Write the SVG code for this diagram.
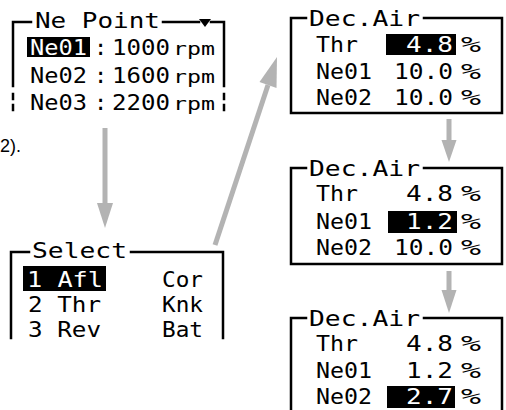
<svg xmlns="http://www.w3.org/2000/svg" width="506" height="410" viewBox="0 0 506 410">
<style>
.b{stroke:#000;stroke-width:2.5;fill:none;stroke-linecap:square}
.t{font-family:"DejaVu Sans Mono","Liberation Mono",monospace;font-size:22px;fill:#000}
.w{fill:#fff}
.s{font-size:17px}
.hl{fill:#000}
.ar{fill:#b3b3b3}
.sh{stroke:#b3b3b3;stroke-width:5;fill:none}
</style>
<rect width="506" height="410" fill="#fff"/>
<text x="0" y="152" style="font-family:'Liberation Sans',Arial,sans-serif;font-size:18px;fill:#000">2).</text>

<g id="ne-point">
  <path class="b" d="M13,86 V22 H31 M163,22 H199 M211,22 H224 V86"/>
  <path class="b" d="M13,94 V99 M13,105 V110 M224,94 V99 M224,105 V110" stroke-linecap="butt"/>
  <polygon points="199,19 211,19 205,27" fill="#000"/>
  <text class="t" x="35" y="28" textLength="125" lengthAdjust="spacingAndGlyphs">Ne Point</text>
  <rect class="hl" x="27" y="37" width="63" height="20"/>
  <text class="t w" x="30" y="55" textLength="57" lengthAdjust="spacingAndGlyphs">Ne01</text>
  <text class="t" x="94" y="55">:</text>
  <text class="t" x="112" y="55" textLength="58" lengthAdjust="spacingAndGlyphs">1000</text>
  <text class="t s" x="173" y="55" textLength="42" lengthAdjust="spacingAndGlyphs">rpm</text>
  <text class="t" x="30" y="83" textLength="57" lengthAdjust="spacingAndGlyphs">Ne02</text>
  <text class="t" x="94" y="83">:</text>
  <text class="t" x="112" y="83" textLength="58" lengthAdjust="spacingAndGlyphs">1600</text>
  <text class="t s" x="173" y="83" textLength="42" lengthAdjust="spacingAndGlyphs">rpm</text>
  <text class="t" x="30" y="110" textLength="57" lengthAdjust="spacingAndGlyphs">Ne03</text>
  <text class="t" x="94" y="110">:</text>
  <text class="t" x="112" y="110" textLength="58" lengthAdjust="spacingAndGlyphs">2200</text>
  <text class="t s" x="173" y="110" textLength="42" lengthAdjust="spacingAndGlyphs">rpm</text>
</g>

<g id="select">
  <path class="b" d="M11,338 V252 H29 M131,252 H223 V338"/>
  <text class="t" x="32" y="258" textLength="95" lengthAdjust="spacingAndGlyphs">Select</text>
  <rect class="hl" x="23" y="266" width="83" height="25"/>
  <text class="t w" x="27" y="287" textLength="76" lengthAdjust="spacingAndGlyphs">1 Afl</text>
  <text class="t" x="162" y="287" textLength="41" lengthAdjust="spacingAndGlyphs">Cor</text>
  <text class="t" x="28" y="312" textLength="73" lengthAdjust="spacingAndGlyphs">2 Thr</text>
  <text class="t" x="162" y="312" textLength="41" lengthAdjust="spacingAndGlyphs">Knk</text>
  <text class="t" x="28" y="337" textLength="73" lengthAdjust="spacingAndGlyphs">3 Rev</text>
  <text class="t" x="162" y="337" textLength="41" lengthAdjust="spacingAndGlyphs">Bat</text>
</g>

<g id="dec-air-1">
  <path class="b" d="M306,18 H291 V113 H502 V18 H424"/>
  <text class="t" x="309" y="26" textLength="111" lengthAdjust="spacingAndGlyphs">Dec.Air</text>
  <text class="t" x="316" y="52" textLength="42" lengthAdjust="spacingAndGlyphs">Thr</text>
  <rect class="hl" x="386" y="34" width="70" height="21"/>
  <text class="t w" x="406" y="52" textLength="47" lengthAdjust="spacingAndGlyphs">4.8</text>
  <text class="t" x="461" y="52" textLength="20" lengthAdjust="spacingAndGlyphs">%</text>
  <text class="t" x="316" y="79" textLength="56" lengthAdjust="spacingAndGlyphs">Ne01</text>
  <text class="t" x="394" y="79" textLength="59" lengthAdjust="spacingAndGlyphs">10.0</text>
  <text class="t" x="461" y="79" textLength="20" lengthAdjust="spacingAndGlyphs">%</text>
  <text class="t" x="316" y="105" textLength="56" lengthAdjust="spacingAndGlyphs">Ne02</text>
  <text class="t" x="394" y="105" textLength="59" lengthAdjust="spacingAndGlyphs">10.0</text>
  <text class="t" x="461" y="105" textLength="20" lengthAdjust="spacingAndGlyphs">%</text>
</g>

<g id="dec-air-2">
  <path class="b" d="M306,168 H291 V264 H502 V168 H424"/>
  <text class="t" x="309" y="176" textLength="111" lengthAdjust="spacingAndGlyphs">Dec.Air</text>
  <text class="t" x="316" y="201" textLength="42" lengthAdjust="spacingAndGlyphs">Thr</text>
  <text class="t" x="406" y="201" textLength="47" lengthAdjust="spacingAndGlyphs">4.8</text>
  <text class="t" x="461" y="201" textLength="20" lengthAdjust="spacingAndGlyphs">%</text>
  <text class="t" x="316" y="229" textLength="56" lengthAdjust="spacingAndGlyphs">Ne01</text>
  <rect class="hl" x="388" y="211" width="69" height="22"/>
  <text class="t w" x="406" y="229" textLength="47" lengthAdjust="spacingAndGlyphs">1.2</text>
  <text class="t" x="461" y="229" textLength="20" lengthAdjust="spacingAndGlyphs">%</text>
  <text class="t" x="316" y="255" textLength="56" lengthAdjust="spacingAndGlyphs">Ne02</text>
  <text class="t" x="394" y="255" textLength="59" lengthAdjust="spacingAndGlyphs">10.0</text>
  <text class="t" x="461" y="255" textLength="20" lengthAdjust="spacingAndGlyphs">%</text>
</g>

<g id="dec-air-3">
  <path class="b" d="M306,318 H291 V412 M502,412 V318 H424"/>
  <text class="t" x="309" y="326" textLength="111" lengthAdjust="spacingAndGlyphs">Dec.Air</text>
  <text class="t" x="316" y="351" textLength="42" lengthAdjust="spacingAndGlyphs">Thr</text>
  <text class="t" x="406" y="351" textLength="47" lengthAdjust="spacingAndGlyphs">4.8</text>
  <text class="t" x="461" y="351" textLength="20" lengthAdjust="spacingAndGlyphs">%</text>
  <text class="t" x="316" y="378" textLength="56" lengthAdjust="spacingAndGlyphs">Ne01</text>
  <text class="t" x="406" y="378" textLength="47" lengthAdjust="spacingAndGlyphs">1.2</text>
  <text class="t" x="461" y="378" textLength="20" lengthAdjust="spacingAndGlyphs">%</text>
  <text class="t" x="316" y="404" textLength="56" lengthAdjust="spacingAndGlyphs">Ne02</text>
  <rect class="hl" x="387" y="386" width="68" height="22"/>
  <text class="t w" x="406" y="404" textLength="47" lengthAdjust="spacingAndGlyphs">2.7</text>
  <text class="t" x="461" y="404" textLength="20" lengthAdjust="spacingAndGlyphs">%</text>
</g>

<g id="connectors">
  <line class="sh" x1="105" y1="128" x2="105" y2="206"/>
  <polygon class="ar" points="97,203 113,203 105,228"/>
  <line class="sh" x1="215" y1="245" x2="268" y2="85"/>
  <polygon class="ar" points="277,57 276.5,88 259.5,82"/>
  <line class="sh" x1="449" y1="119" x2="449" y2="142"/>
  <polygon class="ar" points="441.5,140 456.5,140 449,162"/>
  <line class="sh" x1="449" y1="271" x2="449" y2="292"/>
  <polygon class="ar" points="441.5,290 456.5,290 449,313"/>
</g>
</svg>
